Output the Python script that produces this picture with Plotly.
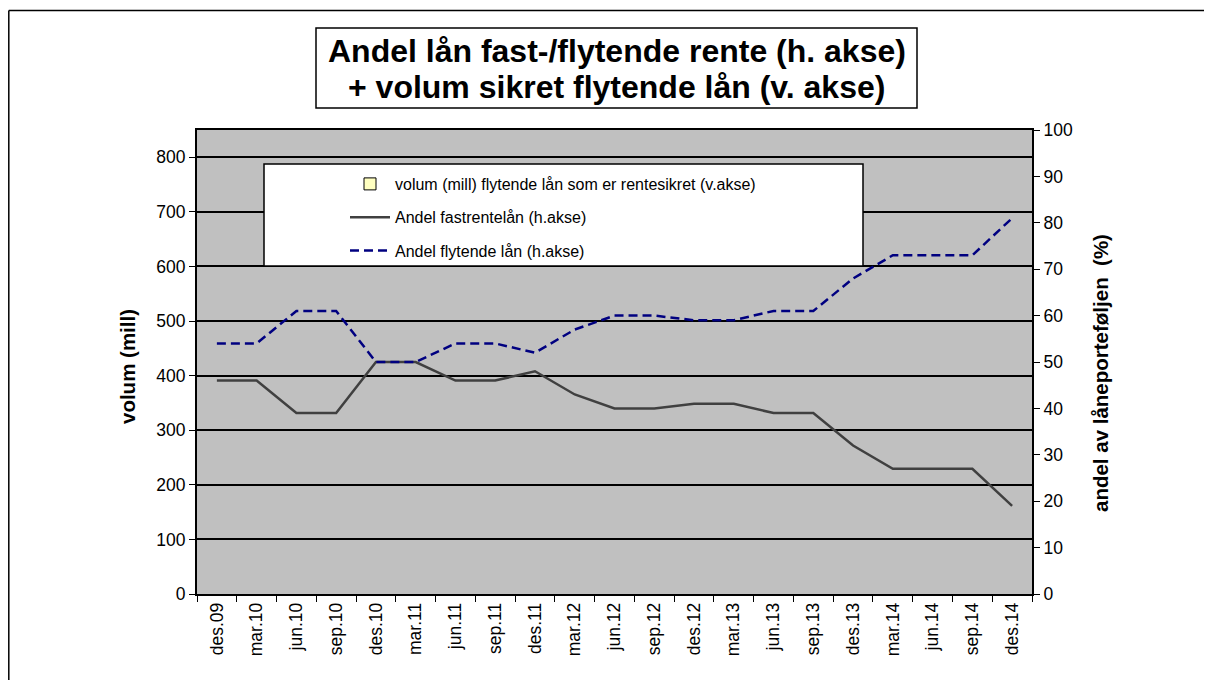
import plotly.graph_objects as go

kvartaler = ["des.09", "mar.10", "jun.10", "sep.10", "des.10", "mar.11", "jun.11",
             "sep.11", "des.11", "mar.12", "jun.12", "sep.12", "des.12", "mar.13",
             "jun.13", "sep.13", "des.13", "mar.14", "jun.14", "sep.14", "des.14"]

# volum (mill) flytende lån som er rentesikret – ingen søyler synlige i figuren
volum_sikret = [None, None, None, None, None, None, None, None, None, None, None,
                None, None, None, None, None, None, None, None, None, None]

andel_fast = [46, 46, 39, 39, 50, 50, 46, 46, 48, 43, 40, 40, 41, 41, 39, 39,
              32, 27, 27, 27, 19]
andel_flytende = [54, 54, 61, 61, 50, 50, 54, 54, 52, 57, 60, 60, 59, 59, 61, 61,
                  68, 73, 73, 73, 81]

venstre_ticks = [0, 100, 200, 300, 400, 500, 600, 700, 800]
hoyre_ticks = [0, 10, 20, 30, 40, 50, 60, 70, 80, 90, 100]

FONT = "Liberation Sans, Arial, sans-serif"

# The page has an 8px body margin, so page coordinates are figure
# coordinates + 8; the figure is kept a bit smaller than the window.
OFF = 8
W, H = 1196, 672
# plot area in page pixels
L, R, T, B = 197, 1032, 130, 594
pw, ph = R - L, B - T


def px(x):
    return (x - L) / pw


def py(y):
    return (B - y) / ph


fig = go.Figure()

fig.add_trace(go.Bar(
    x=kvartaler, y=volum_sikret,
    name="volum (mill) flytende lån som er rentesikret (v.akse)",
    marker=dict(color="#FFFFC0", line=dict(color="black", width=1)),
    legendgroup="a", yaxis="y",
))
fig.add_trace(go.Scatter(
    x=kvartaler, y=andel_fast, mode="lines",
    name="Andel fastrentelån (h.akse)",
    line=dict(color="#404040", width=2.5),
    legendgroup="b", yaxis="y2",
))
fig.add_trace(go.Scatter(
    x=kvartaler, y=andel_flytende, mode="lines",
    name="Andel flytende lån (h.akse)",
    line=dict(color="#000080", width=2.5, dash="9px,5px"),
    legendgroup="c", yaxis="y2",
))

fig.update_layout(
    width=W, height=H,
    margin=dict(l=L - OFF, r=W - (R - OFF), t=T - OFF, b=H - (B - OFF), pad=0),
    paper_bgcolor="white",
    plot_bgcolor="#C0C0C0",
    font=dict(family=FONT, size=17.5, color="black"),
    showlegend=True,
    legend=dict(
        x=px(345), y=py(167), xanchor="left", yanchor="top",
        bgcolor="rgba(0,0,0,0)", borderwidth=0,
        font=dict(family=FONT, size=16, color="black"),
        traceorder="grouped", tracegroupgap=9.5, itemwidth=40,
    ),
    xaxis=dict(
        type="category", range=[-0.5, 20.5],
        tickangle=-90, tickson="boundaries", ticks="outside", ticklen=6,
        tickcolor="black", tickfont=dict(size=17.5),
        showgrid=False, showline=True, linecolor="black", linewidth=1.5,
        mirror=True, zeroline=False,
    ),
    yaxis=dict(
        range=[0, 850], tickvals=venstre_ticks, ticks="outside", ticklen=6,
        tickcolor="black", tickfont=dict(size=17.5),
        showgrid=True, gridcolor="black", gridwidth=1.5,
        showline=True, linecolor="black", linewidth=2, zeroline=False,
    ),
    yaxis2=dict(
        range=[0, 100], tickvals=hoyre_ticks, overlaying="y", side="right",
        ticks="outside", ticklen=6, tickcolor="black", tickfont=dict(size=17.5),
        showgrid=False, showline=True, linecolor="black", linewidth=2,
        zeroline=False,
    ),
    bargap=0.5,
)

# axis titles
fig.add_annotation(xref="paper", yref="paper", x=px(127), y=py(367),
                   xanchor="center", yanchor="middle", textangle=-90,
                   text="<b>volum (mill)</b>", showarrow=False,
                   font=dict(family=FONT, size=20.5, color="black"))
fig.add_annotation(xref="paper", yref="paper", x=px(1100), y=py(373),
                   xanchor="center", yanchor="middle", textangle=-90,
                   text="<b>andel av låneporteføljen  (%)</b>", showarrow=False,
                   font=dict(family=FONT, size=20.5, color="black"))

# legend box (white with black border), drawn over the gridlines
fig.add_shape(type="rect", xref="paper", yref="paper",
              x0=px(264), x1=px(863), y0=py(266), y1=py(164),
              fillcolor="white", line=dict(color="black", width=1.5), layer="above")

# outer chart frame: only left and top edges are inside the picture
fig.add_shape(type="line", xref="paper", yref="paper",
              x0=px(8.8), x1=px(8.8), y0=py(10.5), y1=py(720),
              line=dict(color="black", width=1.5), layer="above")
fig.add_shape(type="line", xref="paper", yref="paper",
              x0=px(8.8), x1=px(1240), y0=py(10.5), y1=py(10.5),
              line=dict(color="black", width=1.5), layer="above")

# title box
fig.add_shape(type="rect", xref="paper", yref="paper",
              x0=px(316), x1=px(917), y0=py(108), y1=py(28),
              fillcolor="white", line=dict(color="black", width=1.5), layer="above")

titel_linjer = ["<b>Andel lån fast-/flytende rente (h. akse)</b>",
                "<b>+ volum sikret flytende lån (v. akse)</b>"]
for tekst, yc in zip(titel_linjer, [51, 87]):
    fig.add_annotation(
        xref="paper", yref="paper", x=px(616.5), y=py(yc),
        xanchor="center", yanchor="middle",
        text=tekst, font=dict(family=FONT, size=32, color="black"),
        showarrow=False, align="center",
    )

fig.write_html("out.html")
